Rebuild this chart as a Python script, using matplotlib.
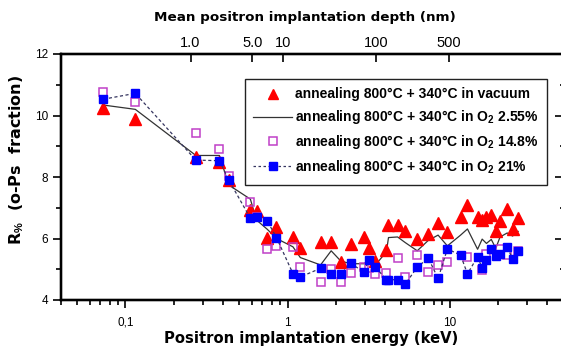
import numpy as np
import matplotlib
matplotlib.use('Agg')
import matplotlib.pyplot as plt
from matplotlib.lines import Line2D
from matplotlib.ticker import FixedLocator, LogLocator, MultipleLocator, NullFormatter, NullLocator

plt.rcParams['font.family'] = ['Liberation Sans', 'DejaVu Sans']
plt.rcParams['mathtext.fontset'] = 'custom'
plt.rcParams['mathtext.rm'] = 'Liberation Sans:bold'
plt.rcParams['mathtext.it'] = 'Liberation Sans:bold'
plt.rcParams['mathtext.bf'] = 'Liberation Sans:bold'

# positron energy (keV)
energy = [0.073, 0.115, 0.272, 0.38, 0.434, 0.59, 0.644, 0.75, 0.855, 1.08,
          1.20, 1.60, 1.86, 2.13, 2.45, 2.97, 3.18, 3.49, 4.08, 4.2,
          4.78, 5.32, 6.32, 7.4, 8.5, 9.7, 11.7, 12.9, 14.9, 15.9,
          16.9, 18.1, 19.3, 20.5, 22.7, 24.5, 26.5]

vacuum = [10.25, 9.88, 8.66, 8.50, 7.90, 6.94, 6.90, 6.03, 6.38, 6.06,
          5.68, 5.90, 5.90, 5.22, 5.82, 6.06, 5.70, 5.26, 5.63, 6.44,
          6.44, 6.26, 5.97, 6.14, 6.51, 6.22, 6.71, 7.10, 6.70, 6.59,
          6.70, 6.76, 6.23, 6.56, 6.96, 6.31, 6.68]

o2_255 = [10.34, 10.20, 8.70, 8.70, 7.74, 7.28, 6.60, 6.30, 6.00, 5.73,
          5.38, 5.14, 5.60, 5.27, 5.18, 5.18, 5.33, 5.14, 5.57, 6.03,
          6.05, 5.87, 5.60, 5.94, 6.11, 5.76, 6.11, 6.31, 5.65, 5.98,
          5.84, 5.97, 5.68, 6.05, 6.18, 6.08, 6.23]

o2_148 = [10.75, 10.43, 9.42, 8.90, 8.03, 7.20, 6.70, 5.66, 5.77, 5.73,
          5.07, 4.60, 5.00, 4.60, 4.87, 5.06, 5.03, 4.85, 4.87, np.nan,
          5.36, 4.75, 5.45, 4.90, 5.14, 5.23, np.nan, 5.40, np.nan, 4.96,
          5.48, np.nan, np.nan, 5.65, 5.46, np.nan, 5.59]

o2_21 = [10.53, 10.72, 8.55, 8.53, 7.90, 6.66, 6.71, 6.57, 6.03, 4.86,
         4.75, 5.03, 4.83, 4.84, 5.19, 4.91, 5.31, 5.07, 4.66, 4.66,
         4.66, 4.51, 5.07, 5.36, 4.70, 5.66, 5.46, 4.85, 5.41, 5.03,
         5.30, 5.66, 5.44, 5.50, 5.71, 5.34, 5.58]

# top axis: mean implantation depth (nm) and the energy where it sits
depth_labels = ['1.0', '5.0', '10', '100', '500']
depth_energy = [0.252, 0.608, 0.944, 3.54, 9.86]

labels = ['annealing 800°C + 340°C in vacuum',
          'annealing 800°C + 340°C in O$_2$ 2.55%',
          'annealing 800°C + 340°C in O$_2$ 14.8%',
          'annealing 800°C + 340°C in O$_2$ 21%']

red = '#ff0000'
blue = '#0000ff'
purple = '#c040c8'

fig = plt.figure(figsize=(5.61, 3.5), dpi=100)
# right frame sits just outside the picture, as in the cropped original
ax = fig.add_axes([61/561, 50/350, 511/561, 246/350])

ax.plot(energy, vacuum, ls='none', marker='^', ms=8, color=red, zorder=3)
ax.plot(energy, o2_255, color='#333333', lw=0.9, zorder=2)
ax.plot(energy, o2_148, ls='none', marker='s', ms=6, mfc='none', mec=purple, mew=1.1, zorder=4)
ax.plot(energy, o2_21, ls=(0, (2.5, 2)), lw=0.9, color='#353560', marker='s', ms=6,
        mfc=blue, mec=blue, zorder=5)

ax.set_xscale('log')
ax.set_xlim(0.04, 57)
ax.set_ylim(4, 12)
ax.xaxis.set_major_locator(FixedLocator([0.1, 1, 10]))
ax.set_xticklabels(['0,1', '1', '10'])
ax.xaxis.set_minor_locator(LogLocator(subs=np.arange(2, 10)))
ax.xaxis.set_minor_formatter(NullFormatter())
ax.yaxis.set_major_locator(MultipleLocator(2))
ax.yaxis.set_minor_locator(MultipleLocator(1))
ax.tick_params(which='both', direction='out', width=1.2, labelsize=8.5, top=False, right=False)
ax.tick_params(which='major', length=6, pad=3)
ax.tick_params(which='minor', length=3.5)
ax.tick_params(axis='x', pad=6)
for s in ax.spines.values():
    s.set_linewidth(1.6)

ax_top = ax.twiny()
ax_top.set_xscale('log')
ax_top.set_xlim(ax.get_xlim())
ax_top.xaxis.set_major_locator(FixedLocator(depth_energy))
ax_top.set_xticklabels(depth_labels)
ax_top.xaxis.set_minor_locator(NullLocator())
ax_top.tick_params(axis='x', direction='in', length=6, width=1.2, labelsize=10.5, pad=3)

ax_r = ax.twinx()
ax_r.set_ylim(4, 12)
ax_r.yaxis.set_major_locator(MultipleLocator(2))
ax_r.yaxis.set_minor_locator(MultipleLocator(1))
ax_r.tick_params(axis='y', which='both', direction='in', width=1.2, labelright=False)
ax_r.tick_params(axis='y', which='major', length=12)
ax_r.tick_params(axis='y', which='minor', length=9)
for a in (ax_top, ax_r):
    for s in a.spines.values():
        s.set_linewidth(1.6)

handles = [
    Line2D([], [], ls='none', marker='^', ms=7, color=red),
    Line2D([], [], color='#333333', lw=0.9),
    Line2D([], [], ls='none', marker='s', ms=5.5, mfc='none', mec=purple, mew=1.1),
    Line2D([], [], ls=(0, (2, 2)), lw=0.9, color='#353560', marker='s', ms=5.5, mfc=blue, mec=blue),
]
leg = ax.legend(handles, labels, loc='upper left', bbox_to_anchor=(184/511, 0.898),
                prop={'weight': 'bold', 'size': 10}, frameon=True, fancybox=False,
                edgecolor='#222222', framealpha=1, borderpad=0.6, labelspacing=0.5,
                handlelength=2.8, handletextpad=0.2, borderaxespad=0, numpoints=1)
leg.get_frame().set_linewidth(1.0)
leg.set_zorder(10)

fig.text(305/561, 1 - 18/350, 'Mean positron implantation depth (nm)',
         ha='center', va='center', fontsize=9.7, fontweight='bold', family='DejaVu Sans')
fig.text(311/561, 1 - 338/350, 'Positron implantation energy (keV)',
         ha='center', va='center', fontsize=10.6, fontweight='bold', family='DejaVu Sans')
fig.text(17/561, 1 - 160/350, r'R$_{\%}$  (o-Ps  fraction)', rotation=90,
         ha='center', va='center', fontsize=11.5, fontweight='bold', family='DejaVu Sans')

fig.savefig('out.png', dpi=100)
